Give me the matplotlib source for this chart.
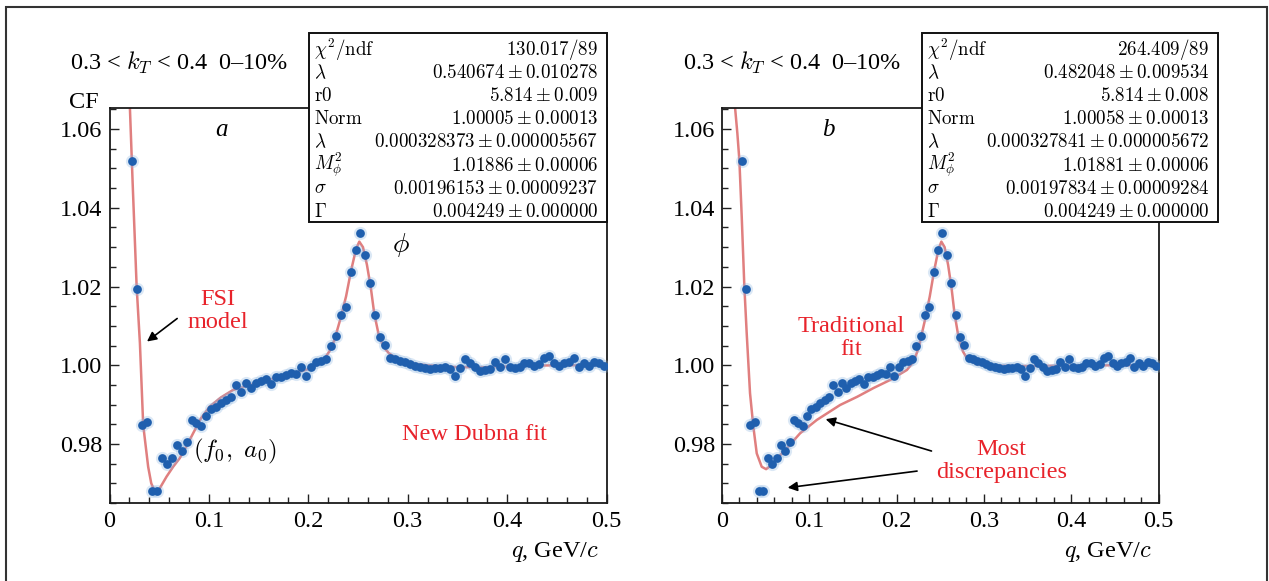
import matplotlib
matplotlib.use('Agg')
import matplotlib.pyplot as plt
from matplotlib.patches import Rectangle
from matplotlib.ticker import MultipleLocator, FixedLocator, FixedFormatter

plt.rcParams['font.family'] = ['Liberation Serif', 'DejaVu Serif']
plt.rcParams['mathtext.fontset'] = 'cm'

# ---------------- data ----------------
q_data = [0.0225, 0.0275, 0.0325, 0.0375, 0.0425, 0.0475, 0.0525, 0.0575, 0.0625, 0.0675,
          0.0725, 0.0775, 0.0825, 0.0875, 0.0925, 0.0975, 0.1025, 0.1075, 0.1125, 0.1175,
          0.1225, 0.1275, 0.1325, 0.1375, 0.1425, 0.1475, 0.1525, 0.1575, 0.1625, 0.1675,
          0.1725, 0.1775, 0.1825, 0.1875, 0.1925, 0.1975, 0.2025, 0.2075, 0.2125, 0.2175,
          0.2225, 0.2275, 0.2325, 0.2375, 0.2425, 0.2475, 0.2525, 0.2575, 0.2625, 0.2675,
          0.2725, 0.2775, 0.2825, 0.2875, 0.2925, 0.2975, 0.3025, 0.3075, 0.3125, 0.3175,
          0.3225, 0.3275, 0.3325, 0.3375, 0.3425, 0.3475, 0.3525, 0.3575, 0.3625, 0.3675,
          0.3725, 0.3775, 0.3825, 0.3875, 0.3925, 0.3975, 0.4025, 0.4075, 0.4125, 0.4175,
          0.4225, 0.4275, 0.4325, 0.4375, 0.4425, 0.4475, 0.4525, 0.4575, 0.4625, 0.4675,
          0.4725, 0.4775, 0.4825, 0.4875, 0.4925, 0.4975]
cf_data = [1.0519, 1.0193, 0.9847, 0.9855, 0.9681, 0.9681, 0.9764, 0.9749, 0.9765, 0.9798,
           0.9781, 0.9806, 0.9861, 0.9852, 0.9846, 0.9872, 0.9890, 0.9895, 0.9903, 0.9912,
           0.9920, 0.9950, 0.9931, 0.9954, 0.9942, 0.9954, 0.9960, 0.9966, 0.9953, 0.9970,
           0.9971, 0.9975, 0.9980, 0.9978, 0.9996, 0.9973, 0.9996, 1.0007, 1.0012, 1.0015,
           1.0050, 1.0074, 1.0128, 1.0147, 1.0238, 1.0293, 1.0335, 1.0280, 1.0208, 1.0128,
           1.0071, 1.0052, 1.0018, 1.0015, 1.0011, 1.0007, 1.0004, 0.9999, 0.9996, 0.9993,
           0.9990, 0.9992, 0.9993, 0.9996, 0.9991, 0.9973, 0.9992, 1.0015, 1.0005, 0.9995,
           0.9986, 0.9988, 0.9990, 1.0009, 0.9995, 1.0015, 0.9995, 0.9992, 0.9995, 1.0005,
           1.0005, 0.9997, 1.0004, 1.0018, 1.0024, 1.0005, 0.9997, 1.0005, 1.0009, 1.0018,
           0.9995, 1.0005, 0.9997, 1.0009, 1.0005, 0.9998]

# fit curve a (New Dubna / FSI model)
fitA_q = [0.0205, 0.0233, 0.0273, 0.0306, 0.0339, 0.0389, 0.0420, 0.0456, 0.0500, 0.0574,
          0.0640, 0.0707, 0.0780, 0.0841, 0.0920, 0.1008, 0.1120, 0.1242, 0.1410, 0.1600,
          0.1800, 0.2000, 0.2100, 0.2160, 0.2212, 0.2260, 0.2320, 0.2380, 0.2430, 0.2480,
          0.2513, 0.2550, 0.2590, 0.2630, 0.2663, 0.2710, 0.2760, 0.2813, 0.2914, 0.3050,
          0.3200, 0.3500, 0.3800, 0.4100, 0.4500, 0.5000]
fitA_cf = [1.0656, 1.0462, 1.0200, 1.0056, 0.9848, 0.9742, 0.9700, 0.9679, 0.9685, 0.9717,
           0.9742, 0.9764, 0.9797, 0.9827, 0.9865, 0.9895, 0.9918, 0.9937, 0.9950, 0.9963,
           0.9976, 0.9990, 1.0002, 1.0016, 1.0035, 1.0062, 1.0115, 1.0175, 1.0240, 1.0295,
           1.0314, 1.0300, 1.0255, 1.0195, 1.0132, 1.0075, 1.0045, 1.0030, 1.0013, 1.0004,
           1.0000, 0.9995, 0.9995, 0.9998, 1.0000, 1.0000]

# fit curve b (traditional fit)
fitB_q = [0.0149, 0.0176, 0.0199, 0.0226, 0.0256, 0.0283, 0.0321, 0.0359, 0.0398, 0.0455,
          0.0505, 0.0560, 0.0627, 0.0742, 0.0894, 0.1086, 0.1353, 0.1550, 0.1735, 0.1930,
          0.2118, 0.2194, 0.2251, 0.2320, 0.2380, 0.2430, 0.2480, 0.2513, 0.2550, 0.2590,
          0.2630, 0.2663, 0.2710, 0.2760, 0.2813, 0.2914, 0.3050, 0.3500, 0.4000, 0.4500,
          0.5000]
fitB_cf = [1.0656, 1.0589, 1.0521, 1.0377, 1.0200, 1.0081, 0.9929, 0.9844, 0.9776, 0.9742,
           0.9736, 0.9745, 0.9762, 0.9789, 0.9827, 0.9861, 0.9899, 0.9920, 0.9942, 0.9963,
           0.9988, 1.0009, 1.0043, 1.0110, 1.0175, 1.0240, 1.0295, 1.0314, 1.0300, 1.0255,
           1.0195, 1.0132, 1.0070, 1.0035, 1.0015, 1.0003, 0.9999, 0.9998, 0.9999, 1.0000,
           1.0000]

xticks = [0, 0.1, 0.2, 0.3, 0.4, 0.5]
xtick_labels = ['0', '0.1', '0.2', '0.3', '0.4', '0.5']
yticks = [0.98, 1.00, 1.02, 1.04, 1.06]
ytick_labels = ['0.98', '1.00', '1.02', '1.04', '1.06']

header = r'0.3 < $k_T$ < 0.4  0–10%'

stat_labels = [r'$\chi^2/\mathrm{ndf}$', r'$\lambda$', r'$\mathrm{r0}$', r'$\mathrm{Norm}$',
               r'$\lambda$', r'$M_\phi^2$', r'$\sigma$', r'$\Gamma$']
statsA = [r'$130.017/89$', r'$0.540674 \pm 0.010278$', r'$5.814 \pm 0.009$',
          r'$1.00005 \pm 0.00013$', r'$0.000328373 \pm 0.000005567$',
          r'$1.01886 \pm 0.00006$', r'$0.00196153 \pm 0.00009237$',
          r'$0.004249 \pm 0.000000$']
statsB = [r'$264.409/89$', r'$0.482048 \pm 0.009534$', r'$5.814 \pm 0.008$',
          r'$1.00058 \pm 0.00013$', r'$0.000327841 \pm 0.000005672$',
          r'$1.01881 \pm 0.00006$', r'$0.00197834 \pm 0.00009284$',
          r'$0.004249 \pm 0.000000$']

# ---------------- figure ----------------
W, H = 1269, 581
fig = plt.figure(figsize=(W / 100, H / 100), dpi=100)


def fx(px):
    return px / W


def fy(py):
    return 1 - py / H


RED = '#e8232b'
BLUE = '#1f5fae'
FIT = '#e07f7f'
FS = 17.5

axL = fig.add_axes([fx(109.5), fy(503), fx(606.5) - fx(109.5), fy(108) - fy(503)])
axR = fig.add_axes([fx(722), fy(503), fx(1158.5) - fx(722), fy(108) - fy(503)])

for ax, fq, fc in [(axL, fitA_q, fitA_cf), (axR, fitB_q, fitB_cf)]:
    ax.plot(fq, fc, color=FIT, lw=1.8, zorder=2, solid_capstyle='round')
    ax.plot(q_data, cf_data, 'o', ms=9.5, color='#8ab3e0', alpha=0.3, mec='none', zorder=3)
    ax.plot(q_data, cf_data, 'o', ms=6.3, color=BLUE, mec='none', zorder=4)
    ax.set_xlim(0, 0.5)
    ax.set_ylim(0.9650, 1.06535)
    ax.xaxis.set_major_locator(FixedLocator(xticks))
    ax.xaxis.set_major_formatter(FixedFormatter(xtick_labels))
    ax.yaxis.set_major_locator(FixedLocator(yticks))
    ax.yaxis.set_major_formatter(FixedFormatter(ytick_labels))
    ax.xaxis.set_minor_locator(MultipleLocator(0.02))
    ax.yaxis.set_minor_locator(MultipleLocator(0.005))
    ax.tick_params(which='both', direction='in', top=False, right=False,
                   labelsize=FS, width=1.0, color='#222222')
    ax.tick_params(which='major', length=6.5)
    ax.tick_params(which='minor', length=4.3)
    ax.tick_params(axis='y', pad=5)
    ax.tick_params(axis='x', pad=6)
    for s in ax.spines.values():
        s.set_linewidth(1.3)
        s.set_color('#1a1a1a')
    ax.text(0.985, -0.124, r'$q$, GeV/$c$', transform=ax.transAxes, ha='right',
            va='center', fontsize=FS)

# headers and CF label
fig.text(fx(70), fy(63), header, fontsize=FS, ha='left', va='center')
fig.text(fx(683), fy(63), header, fontsize=FS, ha='left', va='center')
fig.text(fx(69), fy(103), 'CF', fontsize=FS, ha='left', va='center')

# panel a annotations
axL.text(0.1128, 1.0598, 'a', fontsize=18, style='italic', ha='center', va='center')
axL.text(0.293, 1.0306, r'$\phi$', fontsize=20, ha='center', va='center')
axL.text(0.109, 1.0138, 'FSI\nmodel', color=RED, fontsize=FS, ha='center', va='center',
         linespacing=1.1)
axL.annotate('', xy=(0.0355, 1.0056), xytext=(0.0703, 1.0123),
             arrowprops=dict(arrowstyle='-|>', color='black', lw=1.2, mutation_scale=14))
axL.text(0.126, 0.9780, r'$(f_0,\ a_0)$', fontsize=18, ha='center', va='center')
axL.text(0.3667, 0.9825, 'New Dubna fit', color=RED, fontsize=FS, ha='center', va='center')

# panel b annotations
axR.text(0.1216, 1.0598, 'b', fontsize=18, style='italic', ha='center', va='center')
axR.text(0.1484, 1.0069, 'Traditional\nfit', color=RED, fontsize=FS, ha='center',
         va='center', linespacing=1.1)
axR.text(0.320, 0.9757, 'Most\ndiscrepancies', color=RED, fontsize=FS, ha='center',
         va='center', linespacing=1.1)
axR.annotate('', xy=(0.1157, 0.9865), xytext=(0.243, 0.9780),
             arrowprops=dict(arrowstyle='-|>', color='black', lw=1.2, mutation_scale=14))
axR.annotate('', xy=(0.0721, 0.9688), xytext=(0.2266, 0.9732),
             arrowprops=dict(arrowstyle='-|>', color='black', lw=1.2, mutation_scale=14))


# stats boxes
def stats_box(x0, x1, values):
    rect = Rectangle((fx(x0), fy(222)), fx(x1) - fx(x0), fy(33) - fy(222),
                     transform=fig.transFigure, facecolor='white', edgecolor='#111111',
                     lw=1.4, zorder=10)
    fig.add_artist(rect)
    for k, (lab, val) in enumerate(zip(stat_labels, values)):
        yy = fy(50 + 23.1 * k)
        fig.text(fx(x0 + 5), yy, lab, fontsize=13.7, ha='left', va='center', zorder=11)
        fig.text(fx(x1 - 9), yy, val, fontsize=13.7, ha='right', va='center', zorder=11)


stats_box(309, 607, statsA)
stats_box(922, 1218, statsB)

# outer frame
frame = Rectangle((fx(6), -0.05), fx(1267) - fx(6), fy(7) + 0.05, transform=fig.transFigure,
                  fill=False, edgecolor='#333333', lw=1.5, zorder=20)
fig.add_artist(frame)

fig.savefig('out.png', dpi=100)
